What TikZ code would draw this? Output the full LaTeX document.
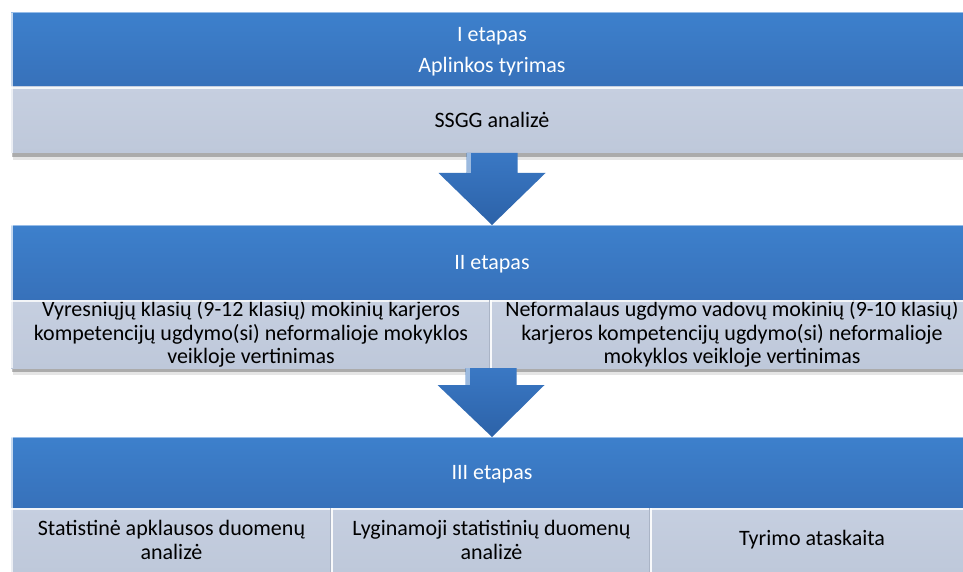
\documentclass[tikz,border=0pt]{standalone}
\usepackage{fontspec}
\setmainfont{Carlito}
\usetikzlibrary{calc}
\definecolor{bandtop}{RGB}{61,128,204}
\definecolor{bandbot}{RGB}{55,113,186}
\definecolor{bandlight}{RGB}{150,188,232}
\definecolor{graytop}{RGB}{198,207,224}
\definecolor{graybot}{RGB}{190,200,218}
\definecolor{arrowtop}{RGB}{58,120,196}
\definecolor{arrowbot}{RGB}{44,98,168}
\definecolor{divdark}{RGB}{170,180,198}
\begin{document}
\begin{tikzpicture}[x=1pt,y=-1pt,
  band/.style={rectangle, inner sep=0pt, outer sep=0pt, anchor=north west, draw=none,
    align=center, font=\fontsize{22}{23.5}\selectfont},
  blueband/.style={band, top color=bandtop, bottom color=bandbot, text=white, text depth=0pt},
  grayband/.style={band, top color=graytop, bottom color=graybot, text=black},
  shadowbox/.style={fill=black},
  arrowbody/.style={top color=arrowtop, bottom color=arrowbot, draw=none},
  edgelight/.style={draw=white, line width=1.5pt, opacity=0.7},
  divider/.style={draw=white, line width=1.2pt, opacity=0.9},
]
\fill[white] (0,0) rectangle (963,572);
\useasboundingbox (0,0) rectangle (963,572);

% shadows
\fill[shadowbox, opacity=0.10] (13,140) rectangle (975,160);
\fill[shadowbox, opacity=0.25] (12,140) rectangle (975,157);
\fill[shadowbox, opacity=0.10] (13,355) rectangle (975,375);
\fill[shadowbox, opacity=0.25] (12,355) rectangle (975,372);

% Stage I
\node[blueband, minimum width=962pt, minimum height=74pt] (b1) at (11,13)
  {I etapas\\[8pt]Aplinkos tyrimas};
\node[grayband, minimum width=962pt, minimum height=66pt] (g1) at (11,87)
  {SSGG analizė};

% Stage II
\node[blueband, minimum width=962pt, minimum height=75pt] (b2) at (11,225)
  {II etapas};
\node[grayband, minimum width=480pt, minimum height=68pt] (g2l) at (11,300)
  {Vyresniųjų klasių (9-12 klasių) mokinių karjeros\\kompetencijų ugdymo(si) neformalioje mokyklos\\veikloje vertinimas};
\node[grayband, minimum width=482pt, minimum height=68pt] (g2r) at (491,300)
  {Neformalaus ugdymo vadovų mokinių (9-10 klasių)\\karjeros kompetencijų ugdymo(si) neformalioje\\mokyklos veikloje vertinimas};

% Stage III
\node[blueband, minimum width=962pt, minimum height=71pt] (b3) at (11,437)
  {III etapas};
\node[grayband, minimum width=321pt, minimum height=64pt] (g3a) at (11,508)
  {Statistinė apklausos duomenų\\analizė};
\node[grayband, minimum width=319pt, minimum height=64pt] (g3b) at (332,508)
  {Lyginamoji statistinių duomenų\\analizė};
\node[grayband, minimum width=322pt, minimum height=64pt] (g3c) at (651,508)
  {Tyrimo ataskaita};

% edge highlights
\foreach \n in {b1,b2,b3}{
  \draw[draw=bandlight, line width=1pt] (\n.north west) -- (\n.north east);
  \draw[edgelight] ($(\n.north west)+(1,0)$) -- ($(\n.south west)+(1,0)$);
}
\foreach \n in {g1,g2l,g2r,g3a,g3b,g3c}{
  \draw[edgelight, opacity=0.8] ($(\n.north west)+(0,1)$) -- ($(\n.north east)+(0,1)$);
}
\foreach \n in {g1,g2l,g3a}{
  \draw[edgelight] ($(\n.north west)+(1,0)$) -- ($(\n.south west)+(1,0)$);
}

% dividers
\draw[divider] (g2l.north east) -- (g2l.south east);
\draw[draw=divdark, line width=0.8pt] ($(g2l.north east)+(-1.2,0)$) -- ($(g2l.south east)+(-1.2,0)$);
\draw[divider] (g3a.north east) -- (g3a.south east);
\draw[draw=divdark, line width=0.8pt] ($(g3a.north east)+(-1.2,0)$) -- ($(g3a.south east)+(-1.2,0)$);
\draw[divider] (g3b.north east) -- (g3b.south east);
\draw[draw=divdark, line width=0.8pt] ($(g3b.north east)+(-1.2,0)$) -- ($(g3b.south east)+(-1.2,0)$);

% block arrows
\path[arrowbody] let \p1=(g1.south), \p2=(b2.north) in
  (\x1-25.5pt,\y1) -- (\x1+25.5pt,\y1) -- (\x1+25.5pt,\y1-20pt) -- (\x1+53.5pt,\y1-20pt)
  -- (\x2,\y2) -- (\x1-53.5pt,\y1-20pt) -- (\x1-25.5pt,\y1-20pt) -- cycle;
\fill[white, opacity=0.5] let \p1=(g1.south) in
  (\x1-25.5pt,\y1) rectangle (\x1-21.5pt,\y1-20pt);

\path[arrowbody] let \p1=(g2l.south east), \p2=(b3.north) in
  (\x1-25.5pt,\y1) -- (\x1+25.5pt,\y1) -- (\x1+25.5pt,\y1-17pt) -- (\x1+53.5pt,\y1-17pt)
  -- (\x2,\y2) -- (\x1-53.5pt,\y1-17pt) -- (\x1-25.5pt,\y1-17pt) -- cycle;
\fill[white, opacity=0.5] let \p1=(g2l.south east) in
  (\x1-25.5pt,\y1) rectangle (\x1-21.5pt,\y1-17pt);
\end{tikzpicture}
\end{document}
